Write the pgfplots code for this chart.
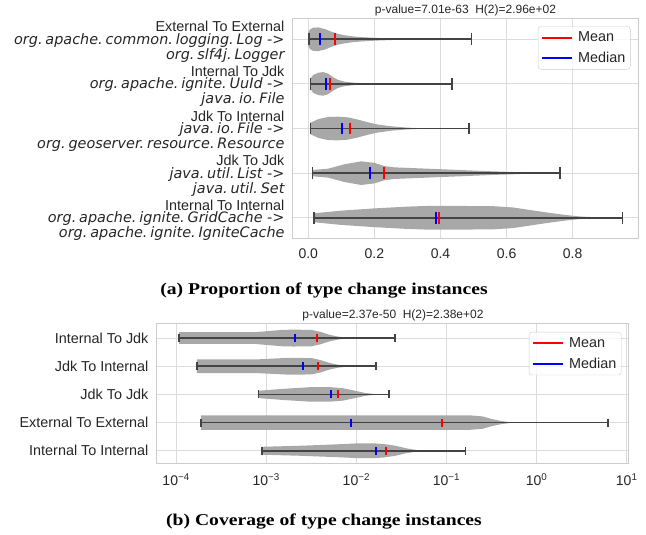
\documentclass[border=0pt]{standalone}
\usepackage{fontspec}
\setmainfont{Liberation Sans}
\newfontfamily\dv{DejaVu Sans}
\newfontfamily\capfont{Liberation Serif}[FakeStretch=1.19]
\usepackage{pgfplots}
\pgfplotsset{compat=1.18}
\definecolor{vgray}{HTML}{A8A8A8}
\definecolor{wgray}{HTML}{434343}
\definecolor{gridc}{HTML}{DCDCDC}
\definecolor{framec}{HTML}{CCCCCC}
\definecolor{txt}{HTML}{262626}
\newcommand{\dt}{.\hspace{0.2em}}
\newcommand{\cls}[1]{{\dv\itshape #1}}
\newcommand{\wh}[7]{%
 \addplot[wstyle] coordinates {(#4,#1) (#5,#1)};
 \addplot[wstyle] coordinates {(#4,#2) (#4,#3)};
 \addplot[wstyle] coordinates {(#5,#2) (#5,#3)};
 \addplot[medst] coordinates {(#6,#2) (#6,#3)};
 \addplot[meanst] coordinates {(#7,#2) (#7,#3)};
}
\pgfplotsset{
  vstyle/.style={fill=vgray, draw=none, forget plot},
  wstyle/.style={draw=wgray, line width=1.7pt, forget plot},
  meanst/.style={draw=red, line width=2pt, forget plot},
  medst/.style={draw=blue, line width=2pt, forget plot},
  common/.style={
    scale only axis, anchor=south west,
    axis line style={draw=framec, line width=1pt},
    grid=major, major grid style={draw=gridc, line width=1pt},
    major tick length=0pt, minor tick length=0pt,
    ticklabel style={font=\fontsize{14}{16}\selectfont, text=txt},
    y dir=reverse, ytick={0,1,2,3,4},
    title style={font=\fontsize{12}{14}\selectfont, text=txt, yshift=-7pt},
    legend style={at={(1,1)}, anchor=north east, xshift=-7.5pt, yshift=-8pt,
      draw=framec, rounded corners=3pt, fill=white, fill opacity=0.8, text opacity=1,
      font=\fontsize{14.4}{16}\selectfont, text=txt, inner xsep=3pt, inner ysep=3.5pt, row sep=4.5pt},
    legend cell align=left,
    legend image code/.code={\draw[##1, line width=2pt] (0pt,0pt) -- (30pt,0pt); \path (33pt,0pt);},
  }
}
\begin{document}
\begin{tikzpicture}
\path[use as bounding box] (0,0) rectangle (646pt,535pt);
% ---------------- (a) ----------------
\begin{axis}[common, at={(293pt,296.7pt)}, width=345pt, height=220pt,
  xmin=-0.0463, xmax=0.9976, ymin=-0.47, ymax=4.46,
  xtick={0,0.2,0.4,0.6,0.8}, xticklabels={0.0,0.2,0.4,0.6,0.8},
  xticklabel style={yshift=-7pt},
  yticklabel style={align=right, font=\fontsize{14.4}{12.7}\selectfont, xshift=-5pt, yshift=-2.5pt},
  yticklabels={
    {External To External\\\cls{org\dt apache\dt common\dt logging\dt Log ->\hspace*{0.3em}}\\\cls{org\dt slf4j\dt Logger}},
    {Internal To Jdk\\\cls{org\dt apache\dt ignite\dt UuId ->\hspace*{0.3em}}\\\cls{java\dt io\dt File}},
    {Jdk To Internal\\\cls{java\dt io\dt File ->\hspace*{0.3em}}\\\cls{org\dt geoserver\dt resource\dt Resource}},
    {Jdk To Jdk\\\cls{java\dt util\dt List ->\hspace*{0.3em}}\\\cls{java\dt util\dt Set}},
    {Internal To Internal\\\cls{org\dt apache\dt ignite\dt GridCache ->\hspace*{0.3em}}\\\cls{org\dt apache\dt ignite\dt IgniteCache}}},
  title={p-value=7.01e-63\hspace{0.55em}H(2)=2.96e+02}]
\addplot[vstyle] coordinates {(0,-0.15) (0.005,-0.22) (0.015,-0.26) (0.03,-0.265) (0.05,-0.23) (0.07,-0.17) (0.09,-0.12) (0.11,-0.09) (0.14,-0.06) (0.18,-0.04) (0.22,-0.025) (0.27,-0.012) (0.32,-0.005) (0.36,0) (0.32,0.005) (0.27,0.012) (0.22,0.025) (0.18,0.04) (0.14,0.06) (0.11,0.09) (0.09,0.12) (0.07,0.17) (0.05,0.23) (0.03,0.265) (0.015,0.26) (0.005,0.22) (0,0.15)} -- cycle;
\addplot[vstyle] coordinates {(0.007,0.88) (0.015,0.8) (0.03,0.75) (0.045,0.735) (0.06,0.77) (0.075,0.85) (0.09,0.91) (0.11,0.95) (0.14,0.975) (0.18,0.99) (0.22,1) (0.18,1.01) (0.14,1.025) (0.11,1.05) (0.09,1.09) (0.075,1.15) (0.06,1.23) (0.045,1.265) (0.03,1.25) (0.015,1.2) (0.007,1.12)} -- cycle;
\addplot[vstyle] coordinates {(0.007,1.87) (0.03,1.79) (0.06,1.74) (0.09,1.735) (0.12,1.75) (0.15,1.8) (0.18,1.86) (0.21,1.91) (0.25,1.95) (0.3,1.98) (0.36,2) (0.3,2.02) (0.25,2.05) (0.21,2.09) (0.18,2.14) (0.15,2.2) (0.12,2.25) (0.09,2.265) (0.06,2.26) (0.03,2.21) (0.007,2.13)} -- cycle;
\addplot[vstyle] coordinates {(0.013,2.93) (0.06,2.9) (0.11,2.8) (0.16,2.735) (0.2,2.77) (0.23,2.84) (0.26,2.87) (0.36,2.9) (0.46,2.93) (0.56,2.96) (0.66,2.985) (0.72,3) (0.66,3.015) (0.56,3.04) (0.46,3.07) (0.36,3.1) (0.26,3.13) (0.23,3.16) (0.2,3.23) (0.16,3.265) (0.11,3.2) (0.06,3.1) (0.013,3.07)} -- cycle;
\addplot[vstyle] coordinates {(0.017,3.9) (0.1,3.84) (0.2,3.79) (0.3,3.75) (0.36,3.735) (0.45,3.735) (0.56,3.74) (0.62,3.77) (0.67,3.825) (0.72,3.88) (0.77,3.93) (0.82,3.97) (0.87,3.99) (0.92,4) (0.87,4.01) (0.82,4.03) (0.77,4.07) (0.72,4.12) (0.67,4.175) (0.62,4.23) (0.56,4.26) (0.45,4.265) (0.36,4.265) (0.3,4.25) (0.2,4.21) (0.1,4.16) (0.017,4.1)} -- cycle;
\wh{0}{-0.132}{0.132}{0.002}{0.494}{0.035}{0.080}
\wh{1}{0.868}{1.132}{0.007}{0.434}{0.053}{0.066}
\wh{2}{1.868}{2.132}{0.007}{0.487}{0.101}{0.126}
\wh{3}{2.868}{3.132}{0.013}{0.762}{0.187}{0.229}
\wh{4}{3.868}{4.132}{0.017}{0.951}{0.385}{0.395}
\addlegendimage{red, line width=2pt}\addlegendentry{Mean}
\addlegendimage{blue, line width=2pt}\addlegendentry{Median}
\end{axis}
% ---------------- (b) ----------------
\begin{axis}[common, xmode=log, at={(157pt,71pt)}, width=472pt, height=140pt,
  xmin=6.14e-5, xmax=10.6, ymin=-0.5, ymax=4.47,
  xminorticks=false,
  xtick={1e-4,1e-3,1e-2,1e-1,1,10},
  xticklabels={10\textsuperscript{−4},10\textsuperscript{−3},10\textsuperscript{−2},10\textsuperscript{−1},10\textsuperscript{0},10\textsuperscript{1}},
  xticklabel style={yshift=-6pt},
  yticklabel style={font=\fontsize{14.4}{16}\selectfont, xshift=-5pt},
  yticklabels={Internal To Jdk, Jdk To Internal, Jdk To Jdk, External To External, Internal To Internal},
  title={p-value=2.37e-50\hspace{0.55em}H(2)=2.38e+02}]
\addplot[vstyle] coordinates {(1.08e-4,-0.21) (7.6e-4,-0.21) (1.5e-3,-0.29) (2.0e-3,-0.3) (3.2e-3,-0.29) (4.0e-3,-0.22) (5.0e-3,-0.12) (6.3e-3,-0.05) (7.9e-3,-0.015) (9.5e-3,0) (7.9e-3,0.015) (6.3e-3,0.05) (5.0e-3,0.12) (4.0e-3,0.22) (3.2e-3,0.29) (2.0e-3,0.3) (1.5e-3,0.29) (7.6e-4,0.21) (1.08e-4,0.21)} -- cycle;
\addplot[vstyle] coordinates {(1.7e-4,0.76) (7.6e-4,0.76) (1.78e-3,0.7) (3.2e-3,0.71) (4.0e-3,0.78) (5.0e-3,0.88) (6.3e-3,0.95) (7.9e-3,0.985) (9.5e-3,1) (7.9e-3,1.015) (6.3e-3,1.05) (5.0e-3,1.12) (4.0e-3,1.22) (3.2e-3,1.29) (1.78e-3,1.3) (7.6e-4,1.24) (1.7e-4,1.24)} -- cycle;
\addplot[vstyle] coordinates {(8.22e-4,1.87) (1.58e-3,1.8) (3.16e-3,1.74) (5.0e-3,1.74) (7.1e-3,1.78) (1.0e-2,1.88) (1.26e-2,1.95) (1.58e-2,1.985) (1.9e-2,2) (1.58e-2,2.015) (1.26e-2,2.05) (1.0e-2,2.12) (7.1e-3,2.22) (5.0e-3,2.26) (3.16e-3,2.26) (1.58e-3,2.2) (8.22e-4,2.13)} -- cycle;
\addplot[vstyle] coordinates {(1.88e-4,2.74) (0.178,2.74) (0.251,2.78) (0.316,2.87) (0.398,2.94) (0.501,2.985) (0.562,3) (0.501,3.015) (0.398,3.06) (0.316,3.13) (0.251,3.22) (0.178,3.26) (1.88e-4,3.26)} -- cycle;
\addplot[vstyle] coordinates {(8.95e-4,3.86) (2.51e-3,3.82) (6.31e-3,3.77) (1.0e-2,3.74) (1.6e-2,3.74) (2.0e-2,3.76) (2.7e-2,3.82) (3.55e-2,3.91) (4.47e-2,3.965) (5.6e-2,4) (4.47e-2,4.035) (3.55e-2,4.09) (2.7e-2,4.18) (2.0e-2,4.24) (1.6e-2,4.26) (1.0e-2,4.26) (6.31e-3,4.23) (2.51e-3,4.18) (8.95e-4,4.14)} -- cycle;
\wh{0}{-0.142}{0.142}{1.08e-4}{0.0267}{2.1e-3}{3.69e-3}
\wh{1}{0.858}{1.142}{1.7e-4}{0.01667}{2.55e-3}{3.72e-3}
\wh{2}{1.858}{2.142}{8.22e-4}{0.02285}{5.27e-3}{6.25e-3}
\wh{3}{2.858}{3.142}{1.88e-4}{6.25}{8.8e-3}{0.0895}
\wh{4}{3.858}{4.142}{8.95e-4}{0.1626}{0.0167}{0.0214}
\addlegendimage{red, line width=2pt}\addlegendentry{Mean}
\addlegendimage{blue, line width=2pt}\addlegendentry{Median}
\end{axis}
\node[anchor=base, font=\capfont\bfseries\fontsize{16.5}{18}\selectfont] at (324pt,240.7pt) {(a) Proportion of type change instances};
\node[anchor=base, font=\capfont\bfseries\fontsize{16.5}{18}\selectfont] at (324pt,9pt) {(b) Coverage of type change instances};
\end{tikzpicture}
\end{document}
